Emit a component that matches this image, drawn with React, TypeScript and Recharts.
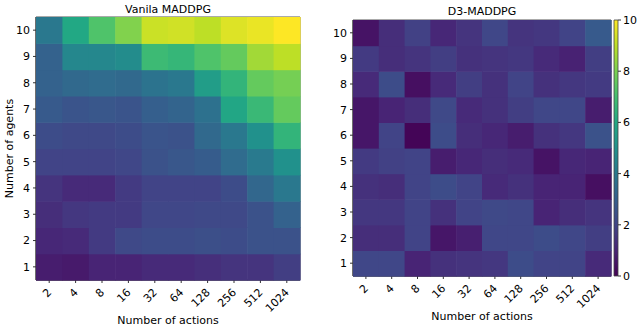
import React from "react";
import {
  ScatterChart,
  Scatter,
  XAxis,
  YAxis,
  ReferenceArea,
  BarChart,
  Bar,
} from "recharts";

const ACTIONS = ["2", "4", "8", "16", "32", "64", "128", "256", "512", "1024"];
const AGENTS = [1, 2, 3, 4, 5, 6, 7, 8, 9, 10];
const CB_TICKS = [0, 2, 4, 6, 8, 10];

// rows = number of agents 1..10, columns = number of actions 2..1024
const VANILA = [
  [0.8, 0.7, 1.0, 1.0, 1.2, 1.2, 1.35, 1.5, 1.5, 1.8],
  [1.1, 1.2, 1.7, 2.2, 2.3, 2.3, 2.4, 2.3, 2.5, 2.5],
  [1.3, 1.6, 1.7, 1.7, 2.1, 2.1, 2.2, 2.2, 2.5, 3.1],
  [1.5, 1.2, 1.2, 1.7, 2.0, 2.0, 2.0, 2.3, 3.3, 4.0],
  [2.0, 2.0, 2.0, 2.1, 2.5, 2.7, 2.9, 3.5, 4.1, 5.0],
  [2.3, 2.2, 2.2, 2.3, 2.6, 2.5, 3.4, 4.0, 5.0, 6.5],
  [2.8, 2.6, 2.7, 2.6, 3.0, 3.2, 3.7, 5.9, 6.7, 7.6],
  [3.1, 3.4, 3.5, 3.4, 3.8, 4.0, 5.5, 6.5, 7.6, 7.9],
  [3.1, 4.6, 4.6, 4.8, 6.8, 6.6, 7.2, 7.6, 8.6, 9.0],
  [4.0, 6.0, 7.2, 8.1, 9.2, 9.3, 9.0, 9.5, 9.7, 10.0],
];

const D3 = [
  [2.1, 2.1, 1.0, 1.4, 1.5, 1.6, 2.3, 2.0, 2.0, 1.2],
  [1.3, 1.3, 2.0, 0.6, 0.85, 2.1, 2.1, 2.3, 2.1, 1.8],
  [1.6, 1.6, 2.0, 1.4, 2.0, 2.2, 2.1, 1.0, 1.3, 1.5],
  [1.4, 1.3, 2.0, 2.3, 2.0, 1.2, 1.4, 1.0, 1.0, 0.4],
  [1.7, 1.9, 2.0, 0.8, 1.1, 1.3, 1.2, 0.5, 1.1, 1.0],
  [0.6, 2.0, 0.1, 2.3, 1.3, 1.1, 0.8, 1.4, 1.6, 2.5],
  [0.6, 1.0, 1.3, 2.2, 1.2, 1.4, 1.8, 2.1, 2.1, 0.8],
  [1.2, 2.3, 0.4, 1.2, 1.8, 1.4, 2.0, 1.4, 1.6, 1.7],
  [1.7, 1.3, 1.5, 1.8, 1.4, 1.5, 1.6, 1.2, 0.95, 1.8],
  [0.5, 1.3, 1.9, 1.1, 1.5, 2.1, 1.5, 1.6, 2.0, 2.8],
];

const VIRIDIS = [
  "#440154", "#482475", "#414487", "#355f8d", "#2a788e", "#21918c",
  "#22a884", "#44bf70", "#7ad151", "#bddf26", "#fde725",
];

const FONT = "'DejaVu Sans', sans-serif";

const hex = (c: string) => [1, 3, 5].map((i) => parseInt(c.slice(i, i + 2), 16));

const viridis = (v: number) => {
  const t = Math.max(0, Math.min(1, v / 10)) * 10;
  const i = Math.min(9, Math.floor(t));
  const f = t - i;
  const a = hex(VIRIDIS[i]);
  const b = hex(VIRIDIS[i + 1]);
  const rgb = a.map((c, k) => Math.round(c + (b[k] - c) * f));
  return `rgb(${rgb.join(",")})`;
};

const toCells = (rows: number[][]) =>
  rows.flatMap((row, r) => row.map((v, c) => ({ x: c + 1, y: AGENTS[r], v })));

const XTick = (props: any) => {
  const { x, y, payload } = props;
  const px = x + 3;
  const py = y + 8;
  return (
    <text
      x={px}
      y={py}
      transform={`rotate(-45 ${px} ${py})`}
      textAnchor="end"
      fontSize={11}
      fontFamily={FONT}
      fill="#000"
    >
      {ACTIONS[payload.value - 1]}
    </text>
  );
};

type HeatProps = {
  rows: number[][];
  margin: { top: number; right: number; bottom: number; left: number };
  yWidth: number;
  xHeight: number;
  cellW: number;
  cellH: number;
  showYLabel?: boolean;
};

const Heatmap = ({ rows, margin, yWidth, xHeight, cellW, cellH, showYLabel }: HeatProps) => (
  <div style={{ position: "absolute", left: 0, top: 0 }}>
    <ScatterChart width={640} height={329} margin={margin}>
      <XAxis
        type="number"
        dataKey="x"
        domain={[0.5, 10.5]}
        ticks={AGENTS}
        interval={0}
        height={xHeight}
        tick={<XTick />}
        tickSize={3}
        tickLine={{ stroke: "#333" }}
        axisLine={{ stroke: "#333" }}
      />
      <YAxis
        type="number"
        dataKey="y"
        domain={[0.5, 10.5]}
        ticks={AGENTS}
        interval={0}
        width={yWidth}
        tickSize={3}
        tickMargin={3}
        tickLine={{ stroke: "#333" }}
        axisLine={{ stroke: "#333" }}
        tick={{ fontSize: 11, fill: "#000", fontFamily: FONT }}
        label={
          showYLabel
            ? {
                value: "Number of agents",
                angle: -90,
                position: "insideLeft",
                offset: 9,
                style: { textAnchor: "middle", fontSize: 11, fontFamily: FONT, fill: "#000" },
              }
            : undefined
        }
      />
      <Scatter
        data={toCells(rows)}
        isAnimationActive={false}
        shape={(p: any) => (
          <rect
            x={p.cx - cellW / 2}
            y={p.cy - cellH / 2}
            width={cellW + 0.6}
            height={cellH + 0.6}
            fill={viridis(p.payload.v)}
          />
        )}
      />
      <ReferenceArea x1={0.5} x2={10.5} y1={0.5} y2={10.5} fill="none" stroke="#555" strokeWidth={1} />
    </ScatterChart>
  </div>
);

const label = (text: string, cx: number, cy: number) => (
  <div
    style={{
      position: "absolute",
      left: cx,
      top: cy - 7,
      transform: "translateX(-50%)",
      whiteSpace: "nowrap",
      fontFamily: FONT,
      fontSize: 11,
      lineHeight: "14px",
      color: "#000",
    }}
  >
    {text}
  </div>
);

const App = () => (
  <div style={{ position: "absolute", left: 0, top: 0, width: 640, height: 329, background: "#fff" }}>
    <Heatmap
      rows={VANILA}
      margin={{ top: 17, right: 340, bottom: 0, left: 0 }}
      yWidth={36}
      xHeight={49}
      cellW={26.4}
      cellH={26.3}
      showYLabel
    />
    <Heatmap
      rows={D3}
      margin={{ top: 20, right: 29, bottom: 0, left: 323 }}
      yWidth={30}
      xHeight={53}
      cellW={25.8}
      cellH={25.6}
    />
    <div style={{ position: "absolute", left: 0, top: 0 }}>
      <BarChart
        width={640}
        height={329}
        data={[{ name: "cb", v: 10 }]}
        margin={{ top: 20, right: 0, bottom: 53, left: 614 }}
        barCategoryGap={0}
      >
        <defs>
          <linearGradient id="viridisGrad" x1="0" y1="1" x2="0" y2="0">
            {VIRIDIS.map((c, i) => (
              <stop key={i} offset={`${i * 10}%`} stopColor={c} />
            ))}
          </linearGradient>
        </defs>
        <XAxis dataKey="name" hide />
        <YAxis
          orientation="right"
          domain={[0, 10]}
          ticks={CB_TICKS}
          interval={0}
          width={22}
          tickSize={3}
          tickMargin={2}
          tickLine={{ stroke: "#333" }}
          axisLine={false}
          tick={{ fontSize: 11, fill: "#000", fontFamily: FONT }}
        />
        <Bar dataKey="v" fill="url(#viridisGrad)" stroke="#444" strokeWidth={0.8} isAnimationActive={false} />
      </BarChart>
    </div>
    {label("Vanila MADDPG", 168, 10)}
    {label("D3-MADDPG", 482, 12)}
    {label("Number of actions", 168, 321)}
    {label("Number of actions", 482, 317)}
  </div>
);

export default App;
